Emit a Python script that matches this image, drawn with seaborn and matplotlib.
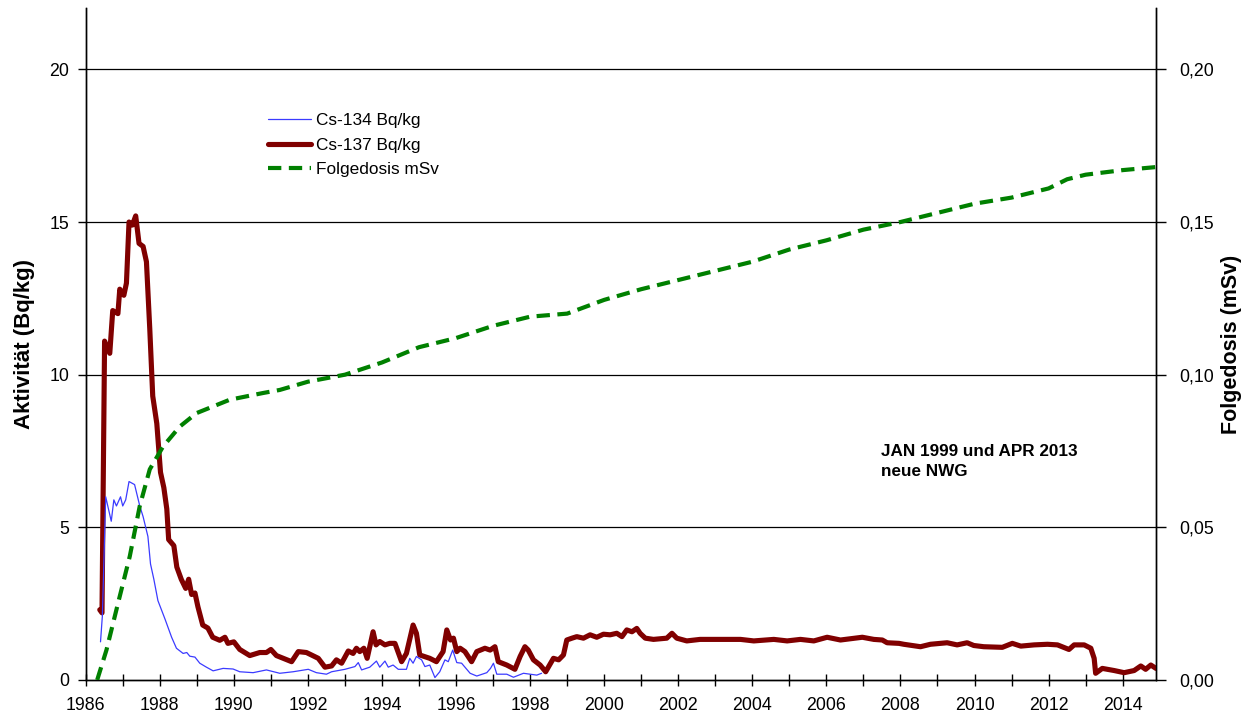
import numpy as np
import pandas as pd
import matplotlib
matplotlib.use("Agg")
import matplotlib.pyplot as plt
from matplotlib.lines import Line2D
from matplotlib.ticker import FuncFormatter, MultipleLocator
import seaborn as sns

# ---------------- data ----------------
cs137_year = [1986.38, 1986.44, 1986.51, 1986.65, 1986.73, 1986.87, 1986.92, 1987.03, 1987.10, 1987.17,
              1987.26, 1987.35, 1987.44, 1987.55, 1987.64, 1987.73, 1987.81, 1987.92, 1988.02, 1988.11,
              1988.19, 1988.24, 1988.38, 1988.46, 1988.58, 1988.70, 1988.78, 1988.86, 1988.95, 1989.03,
              1989.16, 1989.30, 1989.43, 1989.62, 1989.76, 1989.84, 1990.00, 1990.16, 1990.43, 1990.70,
              1990.88, 1991.00, 1991.15, 1991.56, 1991.74, 1991.96, 1992.28, 1992.46, 1992.64, 1992.77,
              1992.91, 1993.09, 1993.22, 1993.31, 1993.40, 1993.51, 1993.60, 1993.76, 1993.84, 1993.94,
              1994.08, 1994.21, 1994.35, 1994.53, 1994.66, 1994.84, 1994.93, 1995.02, 1995.29, 1995.47,
              1995.65, 1995.75, 1995.85, 1995.93, 1996.02, 1996.11, 1996.24, 1996.42, 1996.56, 1996.78,
              1996.92, 1997.05, 1997.14, 1997.37, 1997.59, 1997.73, 1997.86, 1997.95, 1998.09, 1998.27,
              1998.42, 1998.63, 1998.77, 1998.90, 1998.99, 1999.13, 1999.26, 1999.44, 1999.62, 1999.80,
              1999.98, 2000.16, 2000.34, 2000.48, 2000.61, 2000.75, 2000.88, 2000.97, 2001.11, 2001.33,
              2001.69, 2001.83, 2001.96, 2002.23, 2002.59, 2003.04, 2003.68, 2004.04, 2004.58, 2004.94,
              2005.30, 2005.66, 2006.02, 2006.38, 2006.97, 2007.28, 2007.51, 2007.64, 2007.96, 2008.09,
              2008.54, 2008.81, 2009.26, 2009.53, 2009.80, 2009.98, 2010.25, 2010.75, 2011.02, 2011.25,
              2011.61, 2011.97, 2012.24, 2012.55, 2012.69, 2012.96, 2013.14, 2013.23, 2013.27, 2013.45,
              2013.77, 2014.04, 2014.31, 2014.49, 2014.62, 2014.76, 2014.90]
cs137_val = [2.3, 2.2, 11.1, 10.7, 12.1, 12.0, 12.8, 12.6, 13.0, 15.0,
             14.9, 15.2, 14.3, 14.2, 13.7, 11.5, 9.3, 8.4, 6.8, 6.3,
             5.6, 4.6, 4.4, 3.7, 3.3, 3.0, 3.3, 2.8, 2.85, 2.4,
             1.8, 1.7, 1.4, 1.3, 1.4, 1.2, 1.25, 1.0, 0.8, 0.9,
             0.9, 1.0, 0.8, 0.6, 0.93, 0.9, 0.71, 0.42, 0.46, 0.66,
             0.55, 0.95, 0.87, 1.04, 0.93, 1.04, 0.71, 1.58, 1.15, 1.26,
             1.15, 1.2, 1.2, 0.6, 0.87, 1.8, 1.53, 0.82, 0.71, 0.6,
             0.93, 1.64, 1.31, 1.37, 0.93, 1.04, 0.93, 0.6, 0.93, 1.04,
             0.98, 1.09, 0.6, 0.49, 0.35, 0.77, 1.09, 0.98, 0.66, 0.49,
             0.27, 0.71, 0.66, 0.82, 1.31, 1.37, 1.42, 1.37, 1.48, 1.40,
             1.5, 1.48, 1.53, 1.42, 1.64, 1.58, 1.69, 1.53, 1.37, 1.33,
             1.37, 1.53, 1.37, 1.28, 1.33, 1.33, 1.33, 1.28, 1.33, 1.28,
             1.33, 1.28, 1.40, 1.31, 1.40, 1.33, 1.31, 1.22, 1.20, 1.17,
             1.09, 1.17, 1.22, 1.15, 1.22, 1.13, 1.09, 1.07, 1.20, 1.11,
             1.15, 1.17, 1.15, 1.00, 1.15, 1.15, 1.04, 0.71, 0.22, 0.38,
             0.31, 0.24, 0.31, 0.46, 0.35, 0.49, 0.38]

cs134_year = [1986.40, 1986.45, 1986.54, 1986.69, 1986.76, 1986.83, 1986.94, 1987.00, 1987.08, 1987.17,
              1987.32, 1987.46, 1987.55, 1987.68, 1987.75, 1987.84, 1987.95, 1988.14, 1988.32, 1988.45,
              1988.63, 1988.73, 1988.81, 1988.95, 1989.08, 1989.26, 1989.44, 1989.71, 1989.98, 1990.16,
              1990.52, 1990.88, 1991.24, 1991.60, 1992.01, 1992.23, 1992.50, 1992.64, 1993.00, 1993.27,
              1993.36, 1993.45, 1993.67, 1993.85, 1993.94, 1994.08, 1994.17, 1994.30, 1994.44, 1994.66,
              1994.75, 1994.84, 1994.93, 1995.07, 1995.16, 1995.29, 1995.43, 1995.56, 1995.70, 1995.79,
              1995.91, 1996.02, 1996.15, 1996.38, 1996.56, 1996.83, 1996.93, 1997.01, 1997.10, 1997.37,
              1997.55, 1997.82, 1998.18, 1998.31]
cs134_val = [1.25, 2.1, 6.0, 5.2, 5.9, 5.7, 6.0, 5.7, 5.9, 6.5,
             6.4, 5.7, 5.35, 4.7, 3.8, 3.3, 2.6, 2.0, 1.4, 1.04,
             0.87, 0.9, 0.78, 0.75, 0.55, 0.42, 0.3, 0.38, 0.36, 0.27,
             0.24, 0.33, 0.22, 0.27, 0.35, 0.24, 0.19, 0.27, 0.35, 0.44,
             0.57, 0.33, 0.42, 0.62, 0.42, 0.62, 0.42, 0.49, 0.35, 0.35,
             0.71, 0.55, 0.77, 0.66, 0.44, 0.49, 0.08, 0.27, 0.66, 0.6,
             0.98, 0.57, 0.55, 0.22, 0.13, 0.24, 0.38, 0.55, 0.19, 0.19,
             0.09, 0.22, 0.16, 0.22]

dose_year = [1986.31, 1986.56, 1986.87, 1987.19, 1987.46, 1987.73, 1988.09, 1988.54, 1988.99, 1989.89,
             1990.79, 1991.24, 1992.0, 1993.0, 1994.0, 1995.0, 1996.0, 1997.0, 1998.0, 1999.0,
             2000.0, 2001.0, 2002.0, 2003.0, 2004.0, 2005.0, 2006.0, 2007.0, 2008.0, 2009.0,
             2010.0, 2011.0, 2012.0, 2012.5, 2013.0, 2014.0, 2014.9]
dose_val = [0.0, 0.0098, 0.025, 0.0405, 0.057, 0.069, 0.0765, 0.083, 0.0874, 0.0918,
            0.094, 0.095, 0.0977, 0.100, 0.104, 0.109, 0.112, 0.116, 0.119, 0.120,
            0.1245, 0.128, 0.131, 0.134, 0.137, 0.141, 0.144, 0.1475, 0.150, 0.153,
            0.156, 0.158, 0.161, 0.164, 0.1655, 0.167, 0.168]

labels = ["Cs-134 Bq/kg", "Cs-137 Bq/kg", "Folgedosis mSv"]
left_label = "Aktivität (Bq/kg)"
right_label = "Folgedosis (mSv)"
note = "JAN 1999 und APR 2013\nneue NWG"

# ---------------- style ----------------
sns.set_style("white")
plt.rcParams["font.family"] = ["Liberation Sans", "DejaVu Sans"]

c134 = "#3b3bff"
c137 = "#800000"
cdose = "#008000"

fig = plt.figure(figsize=(12.47, 7.18), dpi=100)
ax_w = (1156 - 85.7) / 1247
ax = fig.add_axes([85.7 / 1247, 1 - 680 / 718, ax_w, (680 - 8.3) / 718])
ax2 = ax.twinx()

df134 = pd.DataFrame({"year": cs134_year, "val": cs134_val})
df137 = pd.DataFrame({"year": cs137_year, "val": cs137_val})
dfd = pd.DataFrame({"year": dose_year, "val": dose_val})

sns.lineplot(data=df134, x="year", y="val", ax=ax, color=c134, linewidth=0.9, zorder=4)
sns.lineplot(data=df137, x="year", y="val", ax=ax, color=c137, linewidth=3.7, zorder=3,
             solid_joinstyle="round", solid_capstyle="round")
sns.lineplot(data=dfd, x="year", y="val", ax=ax2, color=cdose, linewidth=3.0,
             dashes=False, zorder=3)
ax2.lines[0].set_dashes([3.2, 1.8])
ax2.lines[0].set_dash_capstyle("butt")

ax.set_xlim(1986, 2014.9)
ax.set_ylim(0, 22)
ax2.set_ylim(0, 0.22)

ax.xaxis.set_major_locator(MultipleLocator(2))
ax.xaxis.set_minor_locator(MultipleLocator(1))
ax.xaxis.set_major_formatter(FuncFormatter(lambda v, p: f"{int(round(v))}"))
ax.set_yticks([0, 5, 10, 15, 20])
ax2.set_yticks([0, 0.05, 0.10, 0.15, 0.20])
ax2.yaxis.set_major_formatter(FuncFormatter(lambda v, p: f"{v:.2f}".replace(".", ",")))

ax.grid(False)
ax2.grid(False)
for yv in [5, 10, 15, 20]:
    ax.axhline(yv, color="black", linewidth=0.9, zorder=1)

for a in (ax, ax2):
    for s in a.spines.values():
        s.set_color("black")
        s.set_linewidth(1.0)
    a.spines["top"].set_visible(False)

ax.tick_params(axis="x", which="both", direction="inout", length=8, width=1.0,
               colors="black", labelsize=12.8, pad=8, bottom=True)
ax.tick_params(axis="y", direction="out", length=6, width=1.0, colors="black",
               labelsize=12.8, pad=6, left=True)
ax2.tick_params(axis="y", direction="out", length=7, width=1.0, colors="black",
                labelsize=12.8, pad=9.5, right=True)

ax.set_xlabel("")
ax.set_ylabel(left_label, fontsize=16, fontweight="bold", color="black")
ax2.set_ylabel(right_label, fontsize=15.5, fontweight="bold", color="black")
ax.yaxis.label.set_verticalalignment("center")
ax2.yaxis.label.set_verticalalignment("center")
ax.yaxis.set_label_coords(-(85.7 - 25) / (1156 - 85.7), 0.5)
ax2.yaxis.set_label_coords(1 + (1231.7 - 1156) / (1156 - 85.7), 0.5)

fig.text(881 / 1247, 1 - 444 / 718, note, fontsize=12.3, fontweight="bold",
         ha="left", va="top", linespacing=1.45, color="black")

handles = [Line2D([], [], color=c134, linewidth=0.9),
           Line2D([], [], color=c137, linewidth=3.7),
           Line2D([], [], color=cdose, linewidth=3.0, dashes=[3.2, 1.8])]
leg = fig.legend(handles, labels, loc="upper left", bbox_to_anchor=(268 / 1247, 1 - 113 / 718),
                 frameon=False, fontsize=12.4, handlelength=2.5, handletextpad=0.3,
                 labelspacing=0.56, borderpad=0, borderaxespad=0)
for t in leg.get_texts():
    t.set_color("black")

fig.savefig("out.png", dpi=100)
